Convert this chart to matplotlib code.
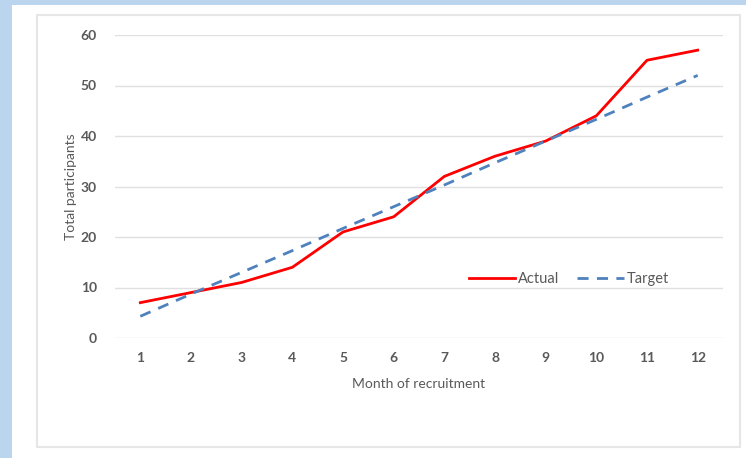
import matplotlib.pyplot as plt
from matplotlib.patches import Rectangle

months = list(range(1, 13))
actual = [7, 9, 11, 14, 21, 24, 32, 36, 39, 44, 55, 57]
target = [4.3, 8.7, 13.0, 17.3, 21.7, 26.0, 30.3, 34.7, 39.0, 43.3, 47.7, 52.0]

W, H = 746, 458
plt.rcParams['font.family'] = ['Lato', 'DejaVu Sans']

fig = plt.figure(figsize=(W / 100, H / 100), dpi=100, facecolor='#bcd5ee')
# white card and inner panel border
fig.patches.append(Rectangle((12 / W, 0), 1, 1 - 5 / H, transform=fig.transFigure,
                             facecolor='white', edgecolor='none', zorder=-2))
fig.patches.append(Rectangle((37 / W, 1 - 447 / H), (740 - 37) / W, (447 - 15) / H,
                             transform=fig.transFigure, facecolor='white',
                             edgecolor='#e6e6e6', linewidth=1.5, zorder=-1))

ax = fig.add_axes([115 / W, 1 - 338 / H, (723 - 115) / W, (338 - 35) / H])
ax.set_zorder(1)
ax.set_facecolor('none')
ax.plot(months, actual, color='#ff0000', linewidth=2, label='Actual', zorder=3)
ax.plot(months, target, color='#4f81bd', linewidth=2, linestyle=(0, (4, 3)),
        label='Target', zorder=3)

ax.set_xlim(0.5, 12.5)
ax.set_ylim(0, 60)
ax.set_yticks(range(0, 61, 10))
ax.set_xticks(months)
ax.grid(axis='y', color='#e0e0e0', linewidth=1)
ax.set_axisbelow(True)
for s in ax.spines.values():
    s.set_visible(False)
ax.tick_params(length=0, labelsize=10, colors='#595959')
ax.tick_params(axis='y', pad=13)
ax.tick_params(axis='x', pad=10)
for lab in ax.get_xticklabels() + ax.get_yticklabels():
    lab.set_fontweight('bold')

ax.set_xlabel('Month of recruitment', fontsize=10, color='#595959', labelpad=10)
ax.set_ylabel('Total participants', fontsize=10, color='#595959', labelpad=3)

ax.legend(loc='upper left', bbox_to_anchor=(0.56, 0.26), ncol=2, frameon=False,
          fontsize=10.5, labelcolor='#595959', handlelength=3.2, handletextpad=0.2,
          columnspacing=1.2)

fig.savefig('out.png', dpi=100, facecolor=fig.get_facecolor())
